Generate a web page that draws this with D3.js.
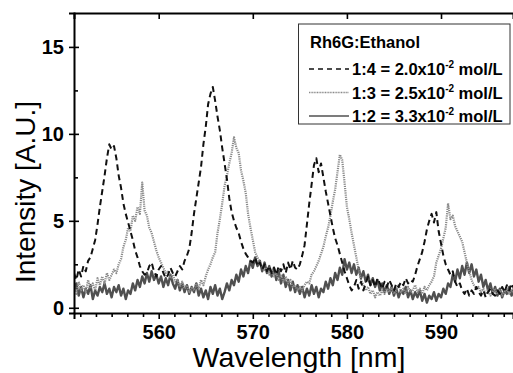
<!DOCTYPE html>
<html>
<head>
<meta charset="utf-8">
<script src="https://cdn.jsdelivr.net/npm/d3@7"></script>
<style>
  html, body { margin: 0; padding: 0; background: #ffffff; }
  svg { display: block; font-family: "Liberation Sans", Arial, sans-serif; }
</style>
</head>
<body>
<div id="chart"></div>
<script>
// spectra sampled every 0.25 nm starting at 551 nm (4 samples per row = 1 nm)
const startNm = 551;
const stepNm = 0.25;

const ratio14 = [
  2.0, 1.6, 2.2, 1.8,   2.4, 2.1, 2.7, 2.9,   3.4, 3.9, 4.8, 5.8,   6.7, 7.6, 8.6, 9.4,
  9.1, 9.3, 8.6, 7.6,   6.9, 6.0, 5.4, 4.9,   4.4, 3.9, 3.3, 2.9,   2.4, 2.1, 1.9, 2.0,
  2.4, 2.6, 2.1, 1.8,   2.2, 2.4, 2.0, 1.7,   1.9, 2.3, 2.0, 1.8,   2.1, 2.4, 2.2, 2.7,
  3.0, 3.4, 4.3, 5.4,   6.3, 7.2, 8.1, 9.4,   10.4, 11.7, 12.3, 12.7, 11.9, 11.0, 10.2, 9.2,
  8.3, 7.4, 6.3, 5.5,   5.0, 4.6, 4.3, 3.8,   3.4, 3.1, 2.9, 2.7,   2.6, 2.9, 2.4, 2.6,
  2.2, 2.5, 2.1, 2.4,   2.0, 2.3, 1.9, 2.4,   2.1, 2.5, 2.0, 2.6,   2.2, 2.7, 2.3, 2.2,
  2.5, 3.0, 3.6, 4.8,   6.0, 7.1, 8.2, 8.6,   7.8, 8.3, 7.5, 6.7,   6.0, 5.3, 4.6, 4.0,
  3.6, 3.1, 2.6, 2.1,   1.7, 1.3, 1.0, 1.2,   1.6, 1.1, 1.5, 1.0,   1.4, 1.8, 1.3, 1.6,
  1.2, 1.7, 1.4, 1.1,   1.5, 1.2, 1.6, 1.3,   1.0, 1.4, 1.2, 1.5,   1.3, 1.7, 1.4, 1.6,
  1.5, 1.9, 2.4, 2.8,   3.2, 3.8, 4.5, 5.0,   5.4, 4.9, 5.5, 4.4,   3.7, 3.0, 2.5, 2.2,
  1.9, 2.1, 1.5, 1.2,   1.4, 1.0, 0.8, 1.1,   0.7, 1.0, 0.8, 1.2,   0.9, 0.7, 1.0, 0.6,
  0.9, 1.1, 0.8, 0.7,   1.0, 0.8, 1.2, 0.9,   1.3, 1.0, 1.4, 1.1
];

const ratio13 = [
  1.2, 0.8, 1.5, 1.0,   1.3, 0.9, 1.6, 1.1,   1.4, 1.0, 1.7, 1.3,   1.8, 1.4, 2.0, 1.6,
  1.9, 2.2, 2.0, 2.5,   2.8, 3.5, 3.9, 4.6,   4.4, 5.3, 5.0, 5.8,   5.4, 7.2, 5.6, 5.3,
  4.6, 4.3, 3.8, 3.3,   2.9, 2.6, 2.3, 2.0,   2.1, 1.7, 1.9, 1.5,   1.6, 1.2, 1.5, 1.1,
  1.3, 0.9, 1.2, 1.0,   1.4, 1.1, 1.6, 1.3,   1.8, 2.2, 2.5, 2.9,   3.2, 4.3, 5.1, 6.0,
  7.0, 7.6, 8.3, 8.9,   9.8, 9.2, 8.9, 7.9,   7.3, 6.6, 5.4, 4.6,   3.9, 3.2, 2.9, 2.6,
  2.4, 2.1, 2.3, 1.9,   2.2, 1.8, 2.0, 1.6,   1.9, 1.5, 1.8, 1.4,   1.6, 1.2, 1.3, 1.0,
  1.2, 1.0, 1.3, 1.5,   1.4, 1.9, 2.1, 2.4,   2.7, 3.1, 3.5, 4.1,   4.6, 5.3, 6.1, 6.8,
  7.8, 8.8, 8.5, 7.2,   5.8, 5.1, 4.3, 3.6,   2.9, 2.2, 1.6, 1.3,   1.0, 1.2, 0.8, 1.0,
  0.6, 0.9, 0.7, 1.0,   0.8, 1.1, 0.9, 1.2,   0.8, 1.0, 1.3, 0.9,   1.1, 0.8, 1.2, 0.9,
  1.0, 1.3, 0.9, 1.1,   0.8, 1.2, 1.0, 1.3,   1.5, 1.8, 2.6, 3.0,   3.4, 4.0, 4.6, 6.0,
  5.1, 5.3, 4.7, 4.4,   4.1, 3.8, 3.2, 2.6,   2.1, 1.6, 1.3, 1.1,   1.2, 0.9, 1.1, 0.8,
  1.0, 0.7, 0.9, 1.1,   0.8, 1.0, 0.7, 0.9,   1.1, 0.8, 1.0, 0.9
];

const ratio12 = [
  0.9, 1.4, 0.7, 1.2,   0.6, 1.1, 0.8, 1.3,   0.5, 1.0, 0.7, 1.2,   0.9, 1.4, 0.8, 1.1,
  0.6, 1.2, 0.9, 1.3,   0.7, 1.1, 0.5, 1.0,   0.8, 1.4, 1.0, 1.6,   1.2, 1.8, 1.4, 2.0,
  1.5, 2.1, 1.6, 1.9,   1.4, 1.8, 1.2, 1.7,   1.3, 1.9, 1.4, 1.1,   1.6, 1.0, 1.4, 0.9,
  1.3, 0.8, 1.2, 0.9,   1.4, 0.7, 1.1, 0.6,   1.0, 0.5, 1.2, 0.8,   1.3, 0.7, 1.1, 0.5,
  0.9, 1.4, 1.0, 1.6,   1.3, 1.9, 1.5, 2.2,   1.8, 2.4, 2.0, 2.7,   2.3, 2.9, 2.4, 2.7,
  2.1, 2.6, 2.0, 2.4,   1.8, 2.3, 1.6, 2.1,   1.4, 1.9, 1.2, 1.6,   1.0, 1.5, 0.9, 1.3,
  0.8, 1.2, 0.6, 1.1,   0.7, 1.3, 0.8, 1.2,   0.6, 1.1, 0.9, 1.5,   1.1, 1.7, 1.3, 2.0,
  1.6, 2.3, 1.9, 2.8,   2.2, 2.6, 2.0, 2.5,   1.9, 2.3, 1.7, 2.1,   1.5, 1.9, 1.3, 1.7,
  1.2, 1.6, 1.0, 1.4,   0.9, 1.3, 0.8, 1.2,   0.7, 1.1, 0.6, 1.0,   0.8, 1.2, 0.6, 1.0,
  0.5, 0.9, 0.6, 1.0,   0.4, 0.8, 0.3, 0.7,   0.5, 0.9, 0.4, 0.8,   0.6, 1.1, 0.8, 1.4,
  1.2, 1.9, 1.5, 2.2,   1.7, 2.4, 1.9, 2.6,   2.0, 2.5, 1.8, 2.2,   1.5, 1.9, 1.2, 1.6,
  1.0, 1.4, 0.8, 1.2,   0.7, 1.1, 0.6, 1.0,   0.8, 1.2, 0.7, 1.1
];

const xTicks = [560, 570, 580, 590];
const yTicks = [0, 5, 10, 15];
const yMinorTicks = [2.5, 7.5, 12.5];
const legendTitle = 'Rh6G:Ethanol';
const legendRows = [
  { lead: '1:4 = 2.0x10', sup: '-2', tail: ' mol/L' },
  { lead: '1:3 = 2.5x10', sup: '-2', tail: ' mol/L' },
  { lead: '1:2 = 3.3x10', sup: '-2', tail: ' mol/L' }
];

const width = 513, height = 373;
const margin = { left: 74, top: 13, right: 0, bottom: 60 };

const styles = [
  { data: ratio14, color: '#111111', width: 2, dash: '6,4' },
  { data: ratio13, color: '#8a8a8a', width: 2.2, dash: '1.2,1' },
  { data: ratio12, color: '#505050', width: 2.4, dash: null }
];

const svg = d3.select('#chart').append('svg')
  .attr('width', width)
  .attr('height', height);

const x = d3.scaleLinear().domain([551, 597.65]).range([margin.left, width - margin.right]);
const y = d3.scaleLinear().domain([-0.3, 16.95]).range([height - margin.bottom, margin.top]);

svg.append('defs').append('clipPath').attr('id', 'plot-clip')
  .append('rect')
  .attr('x', margin.left)
  .attr('y', margin.top)
  .attr('width', width - margin.left - margin.right)
  .attr('height', height - margin.top - margin.bottom);

const line = d3.line()
  .x((d, i) => x(startNm + i * stepNm))
  .y(d => y(d));

const plot = svg.append('g').attr('clip-path', 'url(#plot-clip)');

// solid first so the dashed and dotted traces sit on top where they cross
[styles[2], styles[1], styles[0]].forEach(s => {
  plot.append('path')
    .datum(s.data)
    .attr('d', line)
    .attr('fill', 'none')
    .attr('stroke', s.color)
    .attr('stroke-width', s.width)
    .attr('stroke-dasharray', s.dash)
    .attr('stroke-linejoin', 'round');
});

// axes
const minorX = d3.range(550, 598, 10 / 6)
  .filter(v => v > 551 && v < 597.6)
  .filter(v => Math.abs(v - Math.round(v / 10) * 10) > 0.01);

const axisBottomG = svg.append('g').attr('transform', `translate(0,${y.range()[0]})`);
axisBottomG.call(d3.axisBottom(x).tickValues(xTicks).tickSize(6).tickPadding(6).tickFormat(d3.format('d')));
svg.append('g').attr('transform', `translate(0,${y.range()[0]})`)
  .call(d3.axisBottom(x).tickValues(minorX).tickSize(4).tickFormat(''))
  .call(g => g.select('.domain').remove());

const axisTopG = svg.append('g').attr('transform', `translate(0,${margin.top})`);
axisTopG.call(d3.axisTop(x).tickValues(xTicks).tickSize(-6).tickFormat(''));

const axisLeftG = svg.append('g').attr('transform', `translate(${margin.left},0)`);
axisLeftG.call(d3.axisLeft(y).tickValues(yTicks).tickSize(5).tickPadding(5));
svg.append('g').attr('transform', `translate(${margin.left},0)`)
  .call(d3.axisLeft(y).tickValues(yTicks).tickSize(-5).tickFormat(''))
  .call(g => g.select('.domain').remove());
svg.append('g').attr('transform', `translate(${margin.left},0)`)
  .call(d3.axisLeft(y).tickValues(yMinorTicks).tickSize(-4).tickFormat(''))
  .call(g => g.select('.domain').remove());

svg.selectAll('.domain').attr('stroke', '#000').attr('stroke-width', 2);
svg.selectAll('.tick line').attr('stroke', '#000').attr('stroke-width', 1.6);
svg.selectAll('.tick text')
  .attr('fill', '#000')
  .style('font-size', '20px')
  .style('font-weight', 'bold')
  .style('font-family', '"Liberation Sans", Arial, sans-serif');

// axis titles
svg.append('text')
  .attr('x', 299)
  .attr('y', 367)
  .attr('text-anchor', 'middle')
  .style('font-size', '28.5px')
  .text('Wavelength [nm]');

svg.append('text')
  .attr('transform', `translate(35,192) rotate(-90)`)
  .attr('text-anchor', 'middle')
  .style('font-size', '28px')
  .text('Intensity [A.U.]');

// legend
const legend = svg.append('g');
legend.append('rect')
  .attr('x', 298.5).attr('y', 24)
  .attr('width', 211.5).attr('height', 100)
  .attr('fill', '#fff')
  .attr('stroke', '#333')
  .attr('stroke-width', 1);

legend.append('text')
  .attr('x', 310).attr('y', 48)
  .style('font-size', '16.5px')
  .style('font-weight', 'bold')
  .text(legendTitle);

legendRows.forEach((r, i) => {
  const cy = 69 + i * 23.5;
  const s = styles[i];
  legend.append('line')
    .attr('x1', 309).attr('x2', 349)
    .attr('y1', cy).attr('y2', cy)
    .attr('stroke', s.color)
    .attr('stroke-width', 1.6)
    .attr('stroke-dasharray', i === 0 ? '5,4' : (i === 1 ? '1,0.6' : null));
  const t = legend.append('text')
    .attr('x', 352).attr('y', cy + 6)
    .style('font-size', '16.5px')
    .style('font-weight', 'bold');
  t.append('tspan').text(r.lead);
  t.append('tspan').attr('dy', -7).style('font-size', '10px').text(r.sup);
  t.append('tspan').attr('dy', 7).text(r.tail);
});
</script>
</body>
</html>
